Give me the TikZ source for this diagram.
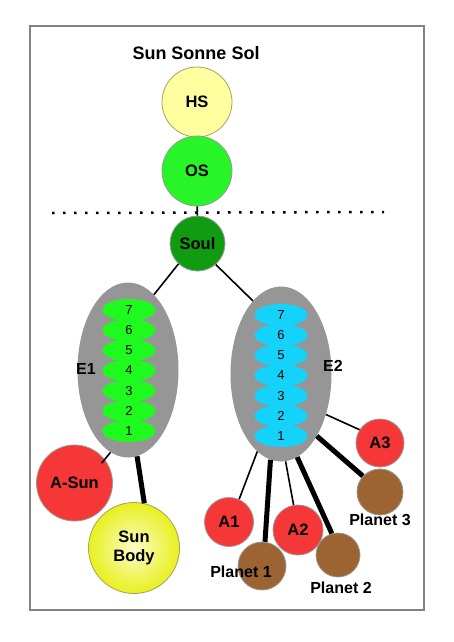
\documentclass[tikz,border=0pt]{standalone}
\usepackage{fontspec}
\setmainfont{Liberation Sans}
\usetikzlibrary{shapes.geometric}
\definecolor{hsfill}{RGB}{255,255,160}
\definecolor{hsdraw}{RGB}{170,160,90}
\definecolor{osfill}{RGB}{40,245,40}
\definecolor{soulfill}{RGB}{16,155,16}
\definecolor{egray}{RGB}{150,150,150}
\definecolor{lgreen}{RGB}{30,250,30}
\definecolor{lcyan}{RGB}{20,210,250}
\definecolor{ared}{RGB}{245,55,55}
\definecolor{pbrown}{RGB}{155,100,50}
\definecolor{sunout}{RGB}{232,240,30}
\definecolor{sunin}{RGB}{252,252,200}
\definecolor{framegray}{RGB}{130,130,130}
\tikzset{
  ball/.style={circle, draw=gray!80, line width=0.8pt, inner sep=0pt, font=\bfseries\fontsize{16.5}{18}\selectfont},
  envelope/.style={ellipse, fill=egray, inner sep=0pt, minimum width=101pt, minimum height=175pt},
  layer/.style={ellipse, inner sep=0pt, minimum width=53pt, minimum height=22pt, font=\fontsize{13}{14}\selectfont},
  thin/.style={line width=1.6pt},
  thick/.style={line width=5pt},
  lbl/.style={font=\bfseries\fontsize{16}{18}\selectfont, inner sep=0pt}
}
\begin{document}
\begin{tikzpicture}[x=1pt,y=-1pt]
\useasboundingbox[fill=white] (0,0) rectangle (454,642);
\draw[framegray, line width=2pt] (30,26) rectangle (424,610);
\node[lbl, font=\bfseries\fontsize{18}{20}\selectfont] (title) at (196,53) {Sun Sonne Sol};
\node[ball, fill=hsfill, draw=hsdraw, minimum size=70pt] (HS) at (197,102) {HS};
\node[ball, fill=osfill, minimum size=70pt] (OS) at (197,171) {OS};
\node[ball, fill=soulfill, minimum size=55pt] (Soul) at (197.5,243.5) {Soul};
\coordinate (dl) at (52,213);
\coordinate (dr) at (384,212);
\draw[line width=2.5pt, dash pattern=on 2.5pt off 8.5pt] (dl) -- (dr);
\draw[thin] (OS) -- (Soul);
% envelopes
\node[envelope] (E1) at (128,370) {};
\node[envelope] (E2) at (281,374) {};
\foreach \i [evaluate=\i as \yy using 431-(\i-1)*20.17] in {7,6,...,1}{
  \node[layer, fill=lgreen] (g\i) at (129,\yy) {\i};
}
\foreach \i [evaluate=\i as \yy using 436-(\i-1)*20.17] in {7,6,...,1}{
  \node[layer, fill=lcyan] (c\i) at (281,\yy) {\i};
}
\node[lbl] (E1l) at (86,369) {E1};
\node[lbl] (E2l) at (333,366) {E2};
\draw[thin] (Soul.-133) -- (E1.71);
\draw[thin] (Soul.-49) -- (E2.111);
% sun side
\node[ball, fill=ared, minimum size=76pt] (ASun) at (74.5,483) {A-Sun};
\node[ball, draw=hsdraw, inner color=sunin, outer color=sunout, minimum size=91pt, align=center, font=\bfseries\fontsize{16.5}{19}\selectfont] (SunBody) at (134,548) {Sun\\Body};
\draw[thin, shorten >=-5pt] (E1.-102) -- (ASun.38);
\draw[thick] (E1.-84) -- (SunBody.77);
% planets side
\node[ball, fill=ared, minimum size=49pt] (A1) at (229,522) {A1};
\node[ball, fill=pbrown, minimum size=48pt] (P1) at (262,566) {};
\node[ball, fill=ared, minimum size=50pt] (A2) at (298,530) {A2};
\node[ball, fill=pbrown, minimum size=44pt] (P2) at (338,555) {};
\node[ball, fill=ared, minimum size=48pt] (A3) at (380,443) {A3};
\node[ball, fill=pbrown, minimum size=46pt] (P3) at (380,492) {};
\node[lbl] (P1l) at (241,572) {Planet 1};
\node[lbl] (P2l) at (341,588) {Planet 2};
\node[lbl] (P3l) at (380,520) {Planet 3};
\draw[thin] (E2.-107) -- (A1.66);
\draw[thick] (E2.-97) -- (P1.83);
\draw[thin] (E2.-87) -- (A2.100);
\draw[thick] (E2.-79) -- (P2.106);
\draw[thin] (E2.-42) -- (A3.147);
\draw[thick] (E2.-60) -- (P3.137);
\end{tikzpicture}
\end{document}
